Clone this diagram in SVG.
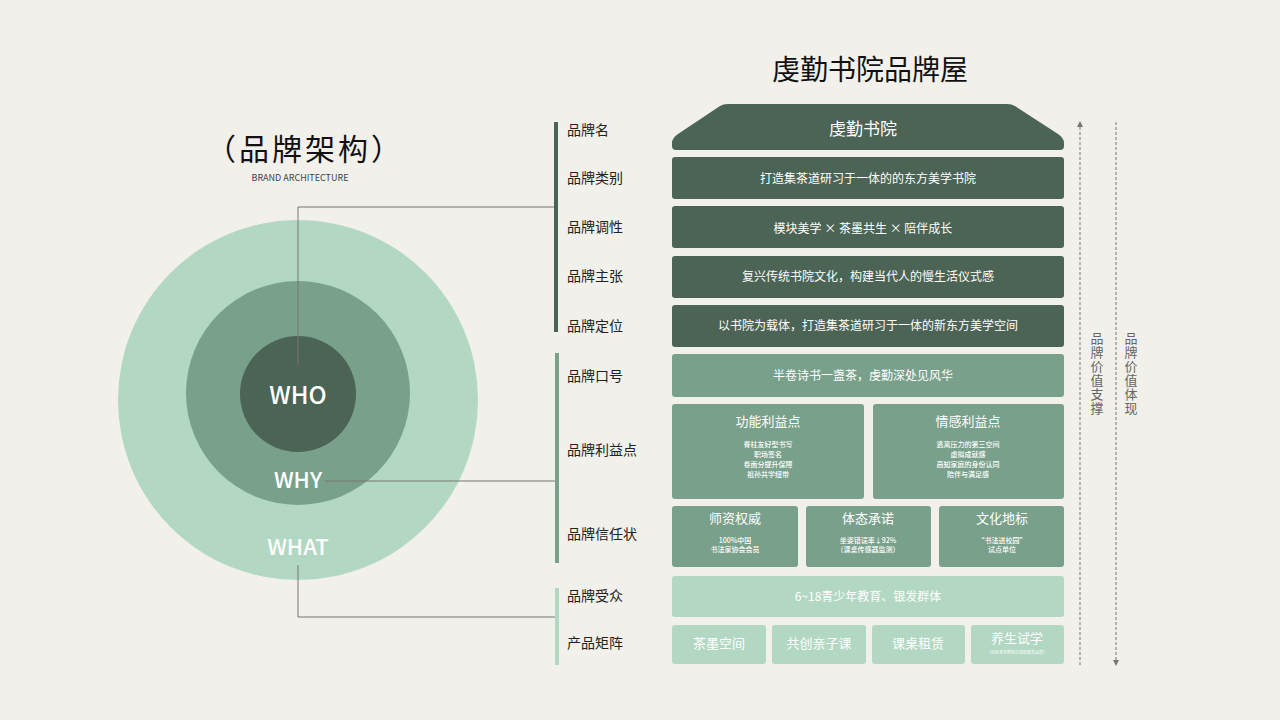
<svg xmlns="http://www.w3.org/2000/svg" width="1280" height="720" viewBox="0 0 1280 720">
<style>
text{font-family:"Noto Sans CJK SC","Noto Sans",sans-serif}
.d{fill:#4b6455}.m{fill:#79a08a}.l{fill:#b2d8c3}
.t{fill:#fff;font-size:12px;text-anchor:middle}
.h{fill:#fff;font-size:13px;text-anchor:middle}
.s{fill:#fff;font-size:7px;text-anchor:middle;font-weight:500}
.lab{fill:#222;font-size:14px}
.v{fill:#666;font-size:13px;writing-mode:vertical-rl;letter-spacing:1px}
.cn{stroke:#777;stroke-width:1;fill:none}
</style>
<defs><marker id="ar" viewBox="0 0 6 6" refX="3" refY="3" markerWidth="6" markerHeight="6" orient="auto"><path d="M0,0L6,3L0,6z" fill="#777"/></marker></defs>
<rect width="1280" height="720" fill="#f1f0ea"/>
<g id="title"><text x="870" y="80" font-size="28" text-anchor="middle" fill="#111">虔勤书院品牌屋</text>
<text x="305" y="160" font-size="30" text-anchor="middle" fill="#111" letter-spacing="3">（品牌架构）</text>
<text x="300" y="181" font-size="9" text-anchor="middle" fill="#444" font-family="Liberation Sans">BRAND ARCHITECTURE</text></g>
<g id="circles">
<circle cx="298" cy="400" r="180" class="l"/>
<circle cx="298" cy="393" r="112" class="m"/>
<circle cx="298" cy="394" r="58" class="d"/>
<text x="298" y="404" font-size="24" font-weight="500" fill="#fff" text-anchor="middle">WHO</text>
<text x="298" y="488" font-size="22" font-weight="500" fill="#fff" text-anchor="middle">WHY</text>
<text x="298" y="555" font-size="22" font-weight="500" fill="#fff" text-anchor="middle">WHAT</text>
</g>
<g id="connectors">
<path class="cn" d="M298,365V207H556"/>
<path class="cn" d="M325,481H556"/>
<path class="cn" d="M298,565V617H556"/>
<path d="M1080,665V124" stroke="#777" stroke-dasharray="3,2" marker-end="url(#ar)"/>
<path d="M1116,122V663" stroke="#777" stroke-dasharray="3,2" marker-end="url(#ar)"/>
</g>
<g id="bars">
<rect x="554" y="122" width="4" height="210" class="d"/>
<rect x="555" y="353" width="4" height="210" class="m"/>
<rect x="555" y="588" width="4" height="77" class="l"/>
</g>
<g id="labels">
<text class="lab" x="567" y="135">品牌名</text>
<text class="lab" x="567" y="183">品牌类别</text>
<text class="lab" x="567" y="232">品牌调性</text>
<text class="lab" x="567" y="281">品牌主张</text>
<text class="lab" x="567" y="331">品牌定位</text>
<text class="lab" x="567" y="381">品牌口号</text>
<text class="lab" x="567" y="455">品牌利益点</text>
<text class="lab" x="567" y="539">品牌信任状</text>
<text class="lab" x="567" y="601">品牌受众</text>
<text class="lab" x="567" y="648">产品矩阵</text>
</g>
<g id="roof"><path class="d" d="M672,143Q672,138 678,134L720,106Q723,104 728,104H1007Q1012,104 1015,106L1058,134Q1064,138 1064,143V146Q1064,150 1060,150H676Q672,150 672,146Z"/>
<text x="863" y="135" font-size="17" fill="#fff" text-anchor="middle">虔勤书院</text></g>
<g id="n1"><rect x="672" y="157" width="392" height="42" rx="3" class="d"/><text class="t" x="868" y="183">打造集茶道研习于一体的的东方美学书院</text></g>
<g id="n2"><rect x="672" y="206" width="392" height="42" rx="3" class="d"/><text class="t" x="863" y="233">模块美学 × 茶墨共生 × 陪伴成长</text></g>
<g id="n3"><rect x="672" y="256" width="392" height="42" rx="3" class="d"/><text class="t" x="868" y="281">复兴传统书院文化，构建当代人的慢生活仪式感</text></g>
<g id="n4"><rect x="672" y="305" width="392" height="42" rx="3" class="d"/><text class="t" x="868" y="330">以书院为载体，打造集茶道研习于一体的新东方美学空间</text></g>
<g id="n5"><rect x="672" y="354" width="392" height="43" rx="3" class="m"/><text class="t" x="863" y="380">半卷诗书一盏茶，虔勤深处见风华</text></g>
<g id="n6"><rect x="672" y="404" width="192" height="95" rx="3" class="m"/><text class="h" x="768" y="426">功能利益点</text>
<text class="s" x="768" y="447">脊柱友好型书写</text><text class="s" x="768" y="457">职场签名</text><text class="s" x="768" y="467">卷面分提升保障</text><text class="s" x="768" y="477">祖孙共学纽带</text></g>
<g id="n7"><rect x="873" y="404" width="191" height="95" rx="3" class="m"/><text class="h" x="968" y="426">情感利益点</text>
<text class="s" x="968" y="447">逃离压力的第三空间</text><text class="s" x="968" y="457">虚拟成就感</text><text class="s" x="968" y="467">高知家庭的身份认同</text><text class="s" x="968" y="477">陪伴与满足感</text></g>
<g id="n8"><rect x="672" y="506" width="126" height="61" rx="3" class="m"/><text class="h" x="735" y="523">师资权威</text><text class="s" x="735" y="543">100%中国</text><text class="s" x="735" y="552">书法家协会会员</text></g>
<g id="n9"><rect x="806" y="506" width="125" height="61" rx="3" class="m"/><text class="h" x="868" y="523">体态承诺</text><text class="s" x="868" y="543">坐姿错误率↓92%</text><text class="s" x="868" y="552">（课桌传感器监测）</text></g>
<g id="n10"><rect x="939" y="506" width="125" height="61" rx="3" class="m"/><text class="h" x="1002" y="523">文化地标</text><text class="s" x="1002" y="543">“书法进校园”</text><text class="s" x="1002" y="552">试点单位</text></g>
<g id="n11"><rect x="672" y="576" width="392" height="41" rx="3" class="l"/><text class="t" x="868" y="601">6~18青少年教育、银发群体</text></g>
<g id="n12"><rect x="672" y="625" width="94" height="39" rx="3" class="l"/><text class="h" x="719" y="648">茶墨空间</text></g>
<g id="n13"><rect x="772" y="625" width="94" height="39" rx="3" class="l"/><text class="h" x="819" y="648">共创亲子课</text></g>
<g id="n14"><rect x="872" y="625" width="93" height="39" rx="3" class="l"/><text class="h" x="918" y="648">课桌租赁</text></g>
<g id="n15"><rect x="971" y="625" width="93" height="39" rx="3" class="l"/><text class="h" x="1017" y="643">养生试学</text><text x="1017" y="654" fill="#fff" font-size="4" text-anchor="middle">（社区老年群体日常配套高品质）</text></g>
<g id="side">
<text class="v" x="1097" y="332">品牌价值支撑</text>
<text class="v" x="1131" y="332">品牌价值体现</text>
</g>
</svg>
